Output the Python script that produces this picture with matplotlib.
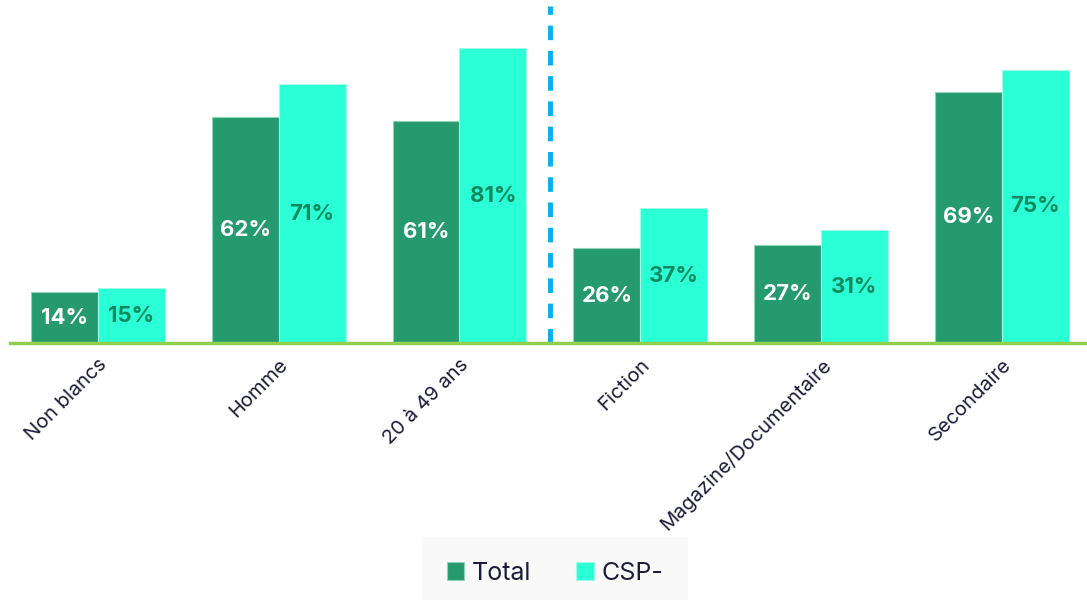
import numpy as np
import matplotlib.pyplot as plt

# data
categories = ['Non blancs', 'Homme', '20 à 49 ans', 'Fiction',
              'Magazine/Documentaire', 'Secondaire']
total = [14, 62, 61, 26, 27, 69]
csp_moins = [15, 71, 81, 37, 31, 75]

dark_green = '#259a6f'
aqua = '#2affd6'
text_col = '#1c1c3a'

plt.rcParams['font.family'] = ['Inter', 'DejaVu Sans']

fig = plt.figure(figsize=(10.87, 6), dpi=100)
ax = fig.add_axes([10 / 1087, 1 - 343 / 600, 1075 / 1087, 343 / 600])

x = np.arange(len(categories))
w = 0.37
b1 = ax.bar(x - w / 2, total, w, color=dark_green, edgecolor='#8fd3b8',
            linewidth=0.8, label='Total', zorder=2)
b2 = ax.bar(x + w / 2, csp_moins, w, color=aqua, edgecolor='#9ffbe8',
            linewidth=0.8, label='CSP-', zorder=2)

for rect, v in zip(b1, total):
    ax.text(rect.get_x() + rect.get_width() / 2, v / 2, '%d%%' % v,
            ha='center', va='center', color='white', fontsize=16,
            fontweight='bold', zorder=3)
for rect, v in zip(b2, csp_moins):
    ax.text(rect.get_x() + rect.get_width() / 2, v / 2, '%d%%' % v,
            ha='center', va='center', color='#12885e', fontsize=16,
            fontweight='bold', zorder=3)

# separator between the two groups of categories
ax.axvline(2.5, ymin=0, ymax=(343 - 6) / 343, color='#00b0f0', lw=3.5,
           ls=(0, (3, 2.2)), zorder=1)

ax.set_xlim(-0.486, len(categories) - 1 + 0.46)
ax.set_ylim(0, 94.2)

for s in ['top', 'right', 'left']:
    ax.spines[s].set_visible(False)
ax.spines['bottom'].set_color('#92d050')
ax.spines['bottom'].set_linewidth(2.5)
ax.spines['bottom'].set_zorder(4)
ax.set_yticks([])
ax.set_xticks(x)
ax.set_xticklabels(categories, rotation=45, ha='right', va='top',
                   rotation_mode='anchor', fontsize=14.5, color=text_col)
ax.tick_params(axis='x', length=0, pad=9)

leg = fig.legend(loc='lower center', bbox_to_anchor=(555 / 1087, -0.012),
                 ncol=2, frameon=True, fontsize=18, handlelength=0.7,
                 handleheight=0.7, handletextpad=0.3, columnspacing=1.8,
                 borderpad=0.4, labelcolor=text_col)
leg.get_frame().set_facecolor('#f8f8f8')
leg.get_frame().set_edgecolor('none')
leg.get_frame().set_boxstyle('square', pad=0.6)
leg.set_zorder(0)

fig.savefig('out.png', dpi=100)
